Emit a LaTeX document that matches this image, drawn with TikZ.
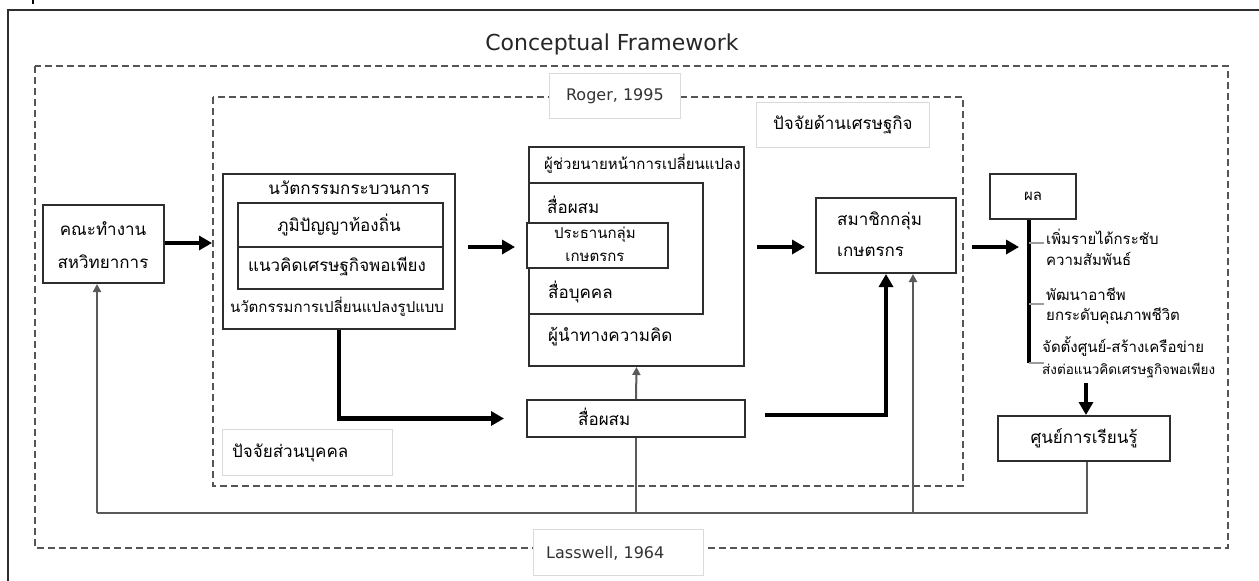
\documentclass[tikz,border=0pt]{standalone}
\usepackage{fontspec}
\setmainfont{DejaVu Sans}
\newfontfamily\thf[Script=Thai]{Loma}
\usetikzlibrary{arrows.meta,calc}
\definecolor{boxc}{HTML}{2E2E2E}
\definecolor{dashc}{HTML}{555555}
\definecolor{fbc}{HTML}{5A5A5A}
\definecolor{lblc}{HTML}{DADADA}
\tikzset{
  boxstyle/.style={draw=boxc, line width=2pt, fill=white, anchor=north west, inner sep=0pt, minimum width=#1},
  lbl/.style={draw=lblc, line width=0.8pt, fill=white, anchor=north west, inner sep=0pt},
  frame/.style={draw=dashc, line width=2pt, dash pattern=on 7pt off 4pt},
  thtext/.style={font=\thf\fontsize{17}{20}\selectfont, inner sep=0pt},
  thsmall/.style={font=\thf\fontsize{15}{18}\selectfont, inner sep=0pt},
  thtiny/.style={font=\thf\fontsize{13.5}{16}\selectfont, inner sep=0pt},
  latin/.style={font=\fontsize{16}{19}\selectfont, text=black!80, inner sep=0pt},
  bigarrow/.style={line width=4.5pt, -{Triangle[length=13pt,width=14pt]}},
  bigline/.style={line width=4.5pt},
  thinarrow/.style={draw=fbc, line width=2pt, -{Triangle[length=8pt,width=8pt]}},
  thinline/.style={draw=fbc, line width=2pt},
}
\begin{document}
\begin{tikzpicture}[x=1pt,y=-1pt]
\useasboundingbox (0,0) rectangle (1259,581);
% outer solid frame (partly visible)
\draw[draw=boxc, line width=2pt] (8,600) -- (8,10) -- (1270,10);
\draw[line width=1.5pt] (33,0) -- (33,4);
% title
\node[font=\fontsize{22}{26}\selectfont, text=black!85, inner sep=0pt] (title) at (612,44) {Conceptual Framework};
% dashed frames
\draw[frame] (35,66) rectangle (1228,548);
\draw[frame] (213,97) rectangle (963,486);
% label boxes
\node[lbl, minimum width=131pt, minimum height=45pt] (roger) at (549,73) {};
\node[latin] at (roger.center) {Roger, 1995};
\node[lbl, minimum width=173pt, minimum height=45pt] (econ) at (756,102) {};
\node[thtext] at (econ.center) {ปัจจัยด้านเศรษฐกิจ};
\node[lbl, minimum width=170pt, minimum height=46pt] (pers) at (222,429) {};
\node[thtext, anchor=west] at (232,453) {ปัจจัยส่วนบุคคล};
\node[lbl, minimum width=170pt, minimum height=46pt] (lass) at (533,529) {};
\node[latin, anchor=west] at (546,553) {Lasswell, 1964};
% box 1
\node[boxstyle=121pt, minimum height=78pt] (kana) at (42,204) {};
\node[thtext] at (103,229) {คณะทำงาน};
\node[thtext] at (103,262) {สหวิทยาการ};
% innovation
\node[boxstyle=232pt, minimum height=155pt] (innov) at (222,173) {};
\node[thtext] at (349,188) {นวัตกรรมกระบวนการ};
\node[boxstyle=205pt, minimum height=44pt] (wis) at (237,202) {};
\node[thtext] at (339,225) {ภูมิปัญญาท้องถิ่น};
\node[boxstyle=205pt, minimum height=42pt] (suff) at (237,246) {};
\node[thtext] at (337,267) {แนวคิดเศรษฐกิจพอเพียง};
\node[thsmall] at (337,307) {นวัตกรรมการเปลี่ยนแปลงรูปแบบ};
% middle
\node[boxstyle=215pt, minimum height=219pt] (agent) at (528,146) {};
\node[thsmall, anchor=west] at (544,164) {ผู้ช่วยนายหน้าการเปลี่ยนแปลง};
\node[boxstyle=174pt, minimum height=131pt] (media) at (528,182) {};
\node[thtext, anchor=west] at (547,205) {สื่อผสม};
\node[boxstyle=141pt, minimum height=45pt] (chair) at (526,222) {};
\node[thsmall] at (595,235) {ประธานกลุ่ม};
\node[thsmall] at (595,257) {เกษตรกร};
\node[thtext, anchor=west] at (548,292) {สื่อบุคคล};
\node[thtext, anchor=west] at (548,337) {ผู้นำทางความคิด};
% member
\node[boxstyle=140pt, minimum height=75pt] (member) at (815,197) {};
\node[thtext, anchor=west] at (837,221) {สมาชิกกลุ่ม};
\node[thtext, anchor=west] at (837,252) {เกษตรกร};
% result
\node[boxstyle=86pt, minimum height=45pt] (result) at (989,173) {};
\node[thsmall] at (result.center) {ผล};
% lower media
\node[boxstyle=218pt, minimum height=37pt] (lmedia) at (526,399) {};
\node[thtext, anchor=west] at (578,417) {สื่อผสม};
% learning centre
\node[boxstyle=172pt, minimum height=45pt] (learn) at (997,415) {};
\node[thtext] at (learn.center) {ศูนย์การเรียนรู้};
% result list
\coordinate (rbot) at (1029,363);
\draw[line width=3.5pt] (result.south -| rbot) -- (rbot);
\draw[draw=fbc!60, line width=1.5pt] (1029,243) -- (1044,243) (1029,304) -- (1044,304) (1029,363) -- (1044,363);
\node[thsmall, anchor=west] at (1046,237) {เพิ่มรายได้กระชับ};
\node[thsmall, anchor=west] at (1046,259) {ความสัมพันธ์};
\node[thsmall, anchor=west] at (1046,294) {พัฒนาอาชีพ};
\node[thsmall, anchor=west] at (1046,316) {ยกระดับคุณภาพชีวิต};
\node[thsmall, anchor=west] at (1042,347) {จัดตั้งศูนย์-สร้างเครือข่าย};
\node[thtiny, anchor=west] at (1042,371) {ส่งต่อแนวคิดเศรษฐกิจพอเพียง};
% main arrows
\draw[bigarrow] (kana.east |- 0,243) -- (212,243);
\draw[bigarrow] ($(innov.east |- 0,247)+(12,0)$) -- (515,247);
\draw[bigarrow] ($(agent.east |- 0,247)+(12,0)$) -- (805,247);
\draw[bigarrow] ($(member.east |- 0,247)+(15,0)$) -- (1019,247);
\coordinate (dtop) at (1086,383);
\draw[bigarrow] (dtop) -- (dtop |- learn.north);
\draw[bigarrow] (innov.south) |- ($(lmedia.west)+(-22,0)$);
\coordinate (tk) at (765,415);
\draw[bigarrow] (tk) -| (member.south);
% feedback
\coordinate (fbL) at (97,513);
\coordinate (fbR) at (1087,513);
\coordinate (fbM) at (913,513);
\draw[thinline] (learn.south -| fbR) -- (fbR) -- (fbL);
\draw[thinarrow] (fbL) -- (fbL |- kana.south);
\draw[thinline] (lmedia.south |- fbL) -- (lmedia.south);
\draw[thinarrow] (lmedia.north) -- (agent.south);
\draw[thinarrow] (fbM) -- (fbM |- member.south);
\end{tikzpicture}
\end{document}
